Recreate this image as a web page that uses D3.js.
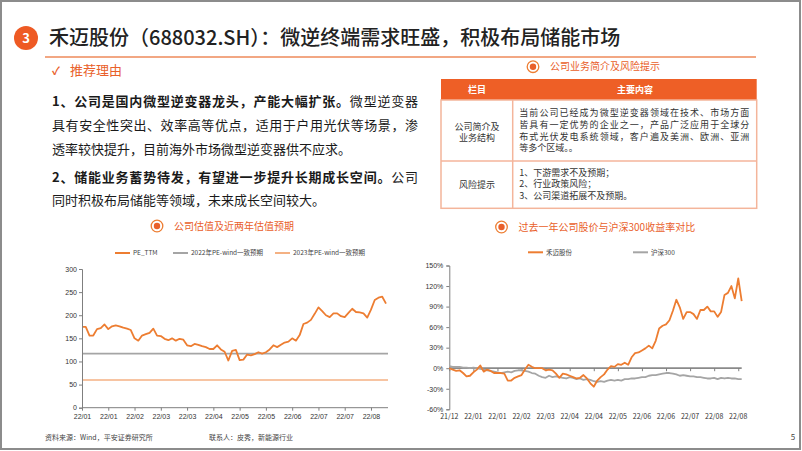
<!DOCTYPE html>
<html lang="zh">
<head>
<meta charset="utf-8">
<style>
  body { margin: 0; background: #fff; }
  svg { display: block; }
  text { font-family: "Noto Sans CJK SC", "Liberation Sans", sans-serif; }
  .tick text { font-family: "Liberation Sans", Arial, sans-serif; }
</style>
</head>
<body>
<script src="https://cdn.jsdelivr.net/npm/d3@7/dist/d3.min.js"></script>
<script>
// 左图：公司估值（PE_TTM），每两个交易日一个点
var peLabels = ["22/01", "22/01", "22/02", "22/03", "22/03", "22/04",
                "22/05", "22/05", "22/06", "22/07", "22/07", "22/08"];
var peTTM = [175, 175, 156, 156, 170, 172, 180, 170, 176, 178,
             176, 173, 171, 168, 150, 145, 156, 159, 162, 171,
             156, 155, 149, 146, 150, 145, 149, 147, 135, 133,
             138, 136, 133, 131, 127, 127, 135, 126, 121, 102,
             123, 125, 103, 104, 115, 113, 116, 120, 117, 120,
             126, 135, 131, 136, 141, 143, 150, 145, 157, 181,
             184, 190, 203, 217, 209, 200, 196, 204, 204, 198,
             196, 205, 214, 207, 206, 204, 195, 212, 233, 238,
             240, 225];
var pe2022 = 117;   // 2022年PE-wind一致预期
var pe2023 = 60;    // 2023年PE-wind一致预期
var peTicks = [0, 50, 100, 150, 200, 250, 300];

// 右图：过去一年收益率（%）
var retLabels = ["21/12", "22/01", "22/01", "22/02", "22/03", "22/04", "22/04",
                 "22/05", "22/06", "22/06", "22/07", "22/08", "22/08"];
var heMai = [0, -2, -4, -3, -7, -12, -11, -6, -2, 4,
             -5, -2, -4, -7, -7, -7, -8, -18, -18, -14,
             -12, -10, -2, 5, 2, 0, 0, 0, -3, -2,
             -3, -8, -14, -8, -9, -11, -13, -15, -14, -10,
             -15, -22, -27, -18, -13, -9, -2, 3, 2, 6,
             5, 8, 5, 16, 22, 23, 26, 29, 33, 29,
             40, 58, 62, 64, 70, 84, 100, 89, 72, 82,
             82, 79, 72, 85, 85, 90, 83, 83, 75, 82,
             107, 110, 120, 102, 131, 98];
var hs300 = [3, 2, 2, 2, 1, 1, 0, 1, 0, -1,
             -2, -3, -4, -5, -6, -7, -6, -5, -6, -4,
             -3, -3, -4, -5, -7, -8, -11, -13, -14, -11,
             -13, -12, -13, -14, -15, -13, -14, -16, -15, -17,
             -16, -17, -19, -20, -19, -20, -18, -17, -18, -17,
             -18, -16, -16, -15, -15, -14, -13, -13, -11, -10,
             -10, -9, -8, -7, -7, -8, -9, -11, -10, -11,
             -12, -12, -13, -13, -14, -15, -15, -14, -16, -14,
             -15, -14, -15, -15, -16, -16];
var retTicks = [-60, -30, 0, 30, 60, 90, 120, 150];

var orange = "#ED7D31", red = "#E9602A", grey = "#A5A5A5", light = "#F4B183";

var svg = d3.select("body").append("svg")
  .attr("width", 802).attr("height", 451);

// 外框
svg.append("rect").attr("x", 1).attr("y", 1).attr("width", 799).attr("height", 448)
  .attr("fill", "#fff").attr("stroke", "#8c8c8c").attr("stroke-width", 2);

// 标题
svg.append("circle").attr("cx", 26).attr("cy", 38).attr("r", 12).attr("fill", "#EE5A24");
svg.append("text").attr("x", 26).attr("y", 42.5).attr("text-anchor", "middle")
  .attr("font-size", 13).attr("font-weight", "bold").attr("fill", "#fff").text("3");
svg.append("text").attr("x", 49).attr("y", 45).attr("font-size", 20).attr("font-weight", 500)
  .attr("fill", "#222")
  .text("禾迈股份（688032.SH）：微逆终端需求旺盛，积极布局储能市场");
svg.append("line").attr("x1", 45).attr("x2", 756).attr("y1", 57).attr("y2", 57)
  .attr("stroke", "#EE8A5A").attr("stroke-width", 1.5);

// 推荐理由
svg.append("text").attr("x", 52).attr("y", 75).attr("font-size", 11).attr("font-weight", "bold")
  .attr("fill", red).text("✓");
svg.append("text").attr("x", 70).attr("y", 75).attr("font-size", 13).attr("fill", red).text("推荐理由");

var para = [
  {y: 106, b: "1、公司是国内微型逆变器龙头，产能大幅扩张。", t: "微型逆变器", w: 366},
  {y: 130, b: "", t: "具有安全性突出、效率高等优点，适用于户用光伏等场景，渗", w: 366},
  {y: 154, b: "", t: "透率较快提升，目前海外市场微型逆变器供不应求。", w: 0},
  {y: 182, b: "2、储能业务蓄势待发，有望进一步提升长期成长空间。", t: "公司", w: 366},
  {y: 205, b: "", t: "同时积极布局储能等领域，未来成长空间较大。", w: 0}
];
para.forEach(function(p) {
  var t = svg.append("text").attr("x", 52).attr("y", p.y).attr("font-size", 13).attr("fill", "#1a1a1a");
  if (p.w) t.attr("textLength", p.w).attr("lengthAdjust", "spacing");
  if (p.b) t.append("tspan").attr("font-weight", "bold").text(p.b);
  t.append("tspan").text(p.t);
});

function icon(cx, cy, label) {
  svg.append("circle").attr("cx", cx).attr("cy", cy).attr("r", 5.8)
    .attr("fill", "#fff").attr("stroke", orange).attr("stroke-width", 1.3);
  svg.append("circle").attr("cx", cx).attr("cy", cy).attr("r", 3.2).attr("fill", red);
  svg.append("text").attr("x", cx + 17).attr("y", cy + 3.6).attr("font-size", 10)
    .attr("fill", red).text(label);
}
icon(533, 66.7, "公司业务简介及风险提示");
icon(157, 226, "公司估值及近两年估值预期");
icon(501.5, 227, "过去一年公司股价与沪深300收益率对比");

// 表格
var tx0 = 441, tx1 = 512.7, tx2 = 756.7, ty0 = 79, ty1 = 100, ty2 = 161, ty3 = 208.3;
svg.append("rect").attr("x", tx0).attr("y", ty0).attr("width", tx2 - tx0).attr("height", ty1 - ty0)
  .attr("fill", "#EE5F26");
svg.append("rect").attr("x", tx0).attr("y", ty1).attr("width", tx2 - tx0).attr("height", ty3 - ty1)
  .attr("fill", "#fff").attr("stroke", "#F4B59B").attr("stroke-width", 1.5);
svg.append("line").attr("x1", tx0).attr("x2", tx2).attr("y1", ty2).attr("y2", ty2)
  .attr("stroke", "#F4B59B").attr("stroke-width", 1.5);
svg.append("line").attr("x1", tx1).attr("x2", tx1).attr("y1", ty1).attr("y2", ty3)
  .attr("stroke", "#F4B59B").attr("stroke-width", 1.5);
svg.append("text").attr("x", 477).attr("y", 92.6).attr("text-anchor", "middle")
  .attr("font-size", 9).attr("font-weight", "bold").attr("fill", "#fff").text("栏目");
svg.append("text").attr("x", 635).attr("y", 92.6).attr("text-anchor", "middle")
  .attr("font-size", 9).attr("font-weight", "bold").attr("fill", "#fff").text("主要内容");

var cells = [
  {x: 477, y: 129.5, a: "middle", s: "公司简介及", w: 0},
  {x: 477, y: 141.3, a: "middle", s: "业务结构", w: 0},
  {x: 477, y: 188, a: "middle", s: "风险提示", w: 0},
  {x: 519.3, y: 116.4, a: "start", s: "当前公司已经成为微型逆变器领域在技术、市场方面", w: 230},
  {x: 519.3, y: 128, a: "start", s: "皆具有一定优势的企业之一，产品广泛应用于全球分", w: 230},
  {x: 519.3, y: 139.6, a: "start", s: "布式光伏发电系统领域，客户遍及美洲、欧洲、亚洲", w: 230},
  {x: 519.3, y: 151.2, a: "start", s: "等多个区域。。", w: 0},
  {x: 519.3, y: 175.5, a: "start", s: "1、下游需求不及预期；", w: 0},
  {x: 519.3, y: 187, a: "start", s: "2、行业政策风险；", w: 0},
  {x: 519.3, y: 198.5, a: "start", s: "3、公司渠道拓展不及预期。", w: 0}
];
cells.forEach(function(c) {
  var t = svg.append("text").attr("x", c.x).attr("y", c.y).attr("text-anchor", c.a)
    .attr("font-size", 9).attr("fill", "#333").text(c.s);
  if (c.w) t.attr("textLength", c.w).attr("lengthAdjust", "spacing");
});

function legend(items, y) {
  items.forEach(function(d) {
    svg.append("line").attr("x1", d.x).attr("x2", d.x + 15).attr("y1", y).attr("y2", y)
      .attr("stroke", d.c).attr("stroke-width", 2);
    svg.append("text").attr("x", d.x + 18).attr("y", y + 2.3).attr("font-size", 6.5)
      .attr("font-family", "'Liberation Sans', 'Noto Sans CJK SC', sans-serif")
      .attr("fill", "#444").text(d.t);
  });
}

function styleAxis(g) {
  g.select(".domain").attr("stroke", "#7f7f7f").attr("stroke-width", 1);
  g.selectAll(".tick line").attr("stroke", "#7f7f7f");
  g.selectAll(".tick text").attr("font-size", 7).attr("fill", "#333");
}

// 左图
var xL = d3.scaleLinear().domain([0, peTTM.length - 1]).range([82, 386]);
var yL = d3.scaleLinear().domain([0, 300]).range([407.7, 269]);

svg.append("line").attr("x1", xL(0)).attr("x2", 388).attr("y1", yL(pe2023)).attr("y2", yL(pe2023))
  .attr("stroke", light).attr("stroke-width", 1.6);
svg.append("line").attr("x1", xL(0)).attr("x2", 388).attr("y1", yL(pe2022)).attr("y2", yL(pe2022))
  .attr("stroke", grey).attr("stroke-width", 1.6);
svg.append("path").datum(peTTM)
  .attr("fill", "none").attr("stroke", orange).attr("stroke-width", 1.8).attr("stroke-linejoin", "round")
  .attr("d", d3.line().x(function(d, i) { return xL(i); }).y(function(d) { return yL(d); }));

svg.append("g").attr("transform", "translate(82,0)")
  .call(d3.axisLeft(yL).tickValues(peTicks).tickSize(3).tickPadding(2))
  .call(styleAxis);
var xLg = svg.append("g").attr("transform", "translate(0,407.7)")
  .call(d3.axisBottom(xL).tickValues(peLabels.map(function(d, i) { return i * 7; }))
    .tickSize(3).tickPadding(3).tickFormat(function(d, i) { return peLabels[i]; }))
  .call(styleAxis);
xLg.select(".domain").attr("d", "M82,0H388");

legend([{x: 115, c: orange, t: "PE_TTM"},
        {x: 173, c: grey, t: "2022年PE-wind一致预期"},
        {x: 275, c: light, t: "2023年PE-wind一致预期"}], 253);

// 右图
var xR = d3.scaleLinear().domain([0, heMai.length - 1]).range([449.3, 741.7]);
var yR = d3.scaleLinear().domain([-60, 150]).range([409.3, 265.5]);
var retIdx = retLabels.map(function(d, i) { return i * 7; });

svg.append("g").attr("transform", "translate(449.3,0)")
  .call(d3.axisLeft(yR).tickValues(retTicks).tickSize(3).tickPadding(3)
    .tickFormat(function(d) { return d + "%"; }))
  .call(styleAxis);

var zero = svg.append("g").attr("transform", "translate(0," + yR(0) + ")")
  .call(d3.axisBottom(xR).tickValues(retIdx).tickSize(3).tickFormat(""));
zero.select(".domain").attr("d", "M449.3,0H741.7").attr("stroke", "#8a8a8a").attr("stroke-width", 1.8);
zero.selectAll(".tick line").attr("stroke", "#7f7f7f");

svg.append("g").selectAll("text").data(retLabels).enter().append("text")
  .attr("x", function(d, i) { return xR(retIdx[i]); })
  .attr("y", 419.3).attr("text-anchor", "middle")
  .attr("font-size", 7).attr("fill", "#333")
  .attr("font-family", "'Liberation Sans', Arial, sans-serif")
  .text(function(d) { return d; });

var lineR = d3.line().x(function(d, i) { return xR(i); }).y(function(d) { return yR(d); });
svg.append("path").datum(hs300).attr("fill", "none").attr("stroke", grey)
  .attr("stroke-width", 1.8).attr("stroke-linejoin", "round").attr("d", lineR);
svg.append("path").datum(heMai).attr("fill", "none").attr("stroke", orange)
  .attr("stroke-width", 1.8).attr("stroke-linejoin", "round").attr("d", lineR);

legend([{x: 528, c: orange, t: "禾迈股份"}, {x: 633, c: grey, t: "沪深300"}], 252.3);

// 页脚
svg.append("text").attr("x", 45).attr("y", 440).attr("font-size", 7).attr("fill", "#444")
  .text("资料来源：Wind，平安证券研究所");
svg.append("text").attr("x", 209).attr("y", 440).attr("font-size", 7).attr("fill", "#444")
  .text("联系人：皮秀，新能源行业");
svg.append("text").attr("x", 793).attr("y", 440).attr("font-size", 8).attr("text-anchor", "middle")
  .attr("fill", "#444").attr("font-family", "'Liberation Sans', Arial, sans-serif").text("5");
</script>
</body>
</html>
